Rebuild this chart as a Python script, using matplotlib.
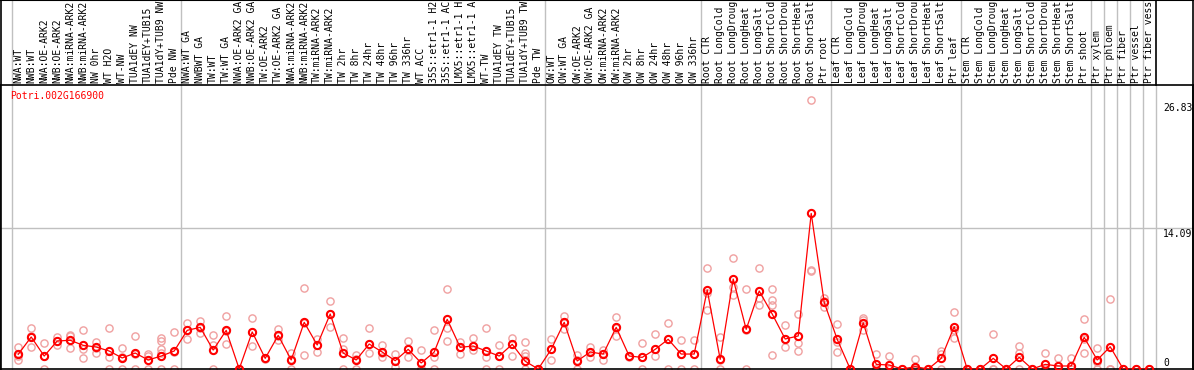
import numpy as np
from matplotlib import pyplot as plt
from matplotlib import transforms

gene = "Potri.002G166900"

# beschriftungen wie im bild: nach 14 zeichen abgeschnitten
samples = [
    "NWA:WT", "NWB:WT", "NWA:OE-ARK2", "NWB:OE-ARK2", "NWA:miRNA-ARK2", "NWB:miRNA-ARK2",
    "NW 0hr", "WT H2O", "WT-NW", "TUA1dEY NW", "TUA1dEY+TUB15", "TUA1dY+TUB9 NW", "Pde NW",
    "NWA:WT GA", "NWBWT GA", "TW:WT", "TW:WT GA", "NWA:OE-ARK2 GA", "NWB:OE-ARK2 GA",
    "TW:OE-ARK2", "TW:OE-ARK2 GA", "NWA:miRNA-ARK2", "NWB:miRNA-ARK2", "TW:miRNA-ARK2",
    "TW:miRNA-ARK2", "TW 2hr", "TW 8hr", "TW 24hr", "TW 48hr", "TW 96hr", "TW 336hr",
    "WT ACC", "35S::etr1-1 H2", "35S::etr1-1 AC", "LMX5::etr1-1 H", "LMX5::etr1-1 A",
    "WT-TW", "TUA1dEY TW", "TUA1dEY+TUB15", "TUA1dY+TUB9 TW", "Pde TW",
    "OW:WT", "OW:WT GA", "OW:OE-ARK2", "OW:OE-ARK2 GA", "OW:miRNA-ARK2", "OW:miRNA-ARK2",
    "OW 2hr", "OW 8hr", "OW 24hr", "OW 48hr", "OW 96hr", "OW 336hr",
    "Root CTR", "Root LongCold", "Root LongDroug", "Root LongHeat", "Root LongSalt",
    "Root ShortCold", "Root ShortDrou", "Root ShortHeat", "Root ShortSalt", "Ptr root",
    "Leaf CTR", "Leaf LongCold", "Leaf LongDroug", "Leaf LongHeat", "Leaf LongSalt",
    "Leaf ShortCold", "Leaf ShortDrou", "Leaf ShortHeat", "Leaf ShortSalt", "Ptr leaf",
    "Stem CTR", "Stem LongCold", "Stem LongDroug", "Stem LongHeat", "Stem LongSalt",
    "Stem ShortCold", "Stem ShortDrou", "Stem ShortHeat", "Stem ShortSalt", "Ptr shoot",
    "Ptr xylem", "Ptr phloem", "Ptr fiber", "Ptr vessel", "Ptr fiber vess",
]
group_sizes = [13, 28, 12, 10, 10, 10, 1, 1, 1, 1, 1]

# mittelwerte (fette roten kreise)
means = [
    1.46, 3.19, 1.29, 2.79, 2.86, 2.36, 2.19, 1.79, 1.10, 1.59, 0.90, 1.29, 1.79,
    3.85, 4.15, 1.89, 3.85, 0.0, 3.69, 1.06, 3.35, 0.90, 4.65, 2.39, 5.48, 1.59, 0.90,
    2.49, 1.69, 0.83, 1.96, 0.60, 1.69, 4.95, 2.16, 2.29, 1.79, 1.29, 2.46, 0.77, 0.0,
    1.96, 4.65, 0.80, 1.69, 1.49, 4.15, 1.29, 1.16, 1.96, 2.96, 1.49, 1.49,
    7.87, 0.96, 8.96, 3.95, 7.77, 5.48, 2.99, 3.29, 15.5, 6.64,
    2.96, 0.0, 4.61, 0.46, 0.40, 0.0, 0.23, 0.0, 1.06, 4.22,
    0.0, 0.0, 1.06, 0.0, 1.16, 0.0, 0.46, 0.30, 0.30, 3.15,
    0.90, 2.22, 0.0, 0.0, 0.0,
]

# einzelwerte (blasse kreise)
reps = [
    [2.2, 0.9, 1.3], [4.05, 2.22, 3.3], [2.56, 0, 1.3], [3.19, 2.39, 2.8], [3.39, 3.25, 2.12],
    [3.85, 1.96, 1.06], [2.72, 1.63, 2.1], [4.05, 1.23, 0], [2.06, 0, 1.2], [3.29, 0, 1.5],
    [1.49, 1.29, 0], [3.06, 2.76, 1.96, 1.6, 0], [3.65, 0, 1.7],
    [4.55, 3.02, 3.9], [4.78, 3.55, 4.1], [3.35, 2.39, 0], [5.28, 2.52, 3.8], [0, 0, 0],
    [5.05, 2.26, 3.7], [1.06, 1.0], [3.95, 2.89, 3.3], [1.63, 0, 1.0], [8.04, 1.39, 4.6],
    [2.99, 1.72, 2.4], [6.77, 4.15, 5.5], [3.06, 1.96, 0], [1.39, 0, 1.0], [4.05, 1.63, 2.5],
    [2.39, 1.2, 1.6], [1.49, 0.8, 0.2], [2.79, 1.2, 2.0], [1.89, 0, 0], [3.85, 1.2, 0],
    [7.97, 4.05, 2.79], [2.72, 1.49, 2.2], [3.06, 1.89, 2.3], [4.05, 1.2, 0], [2.39, 0, 1.3],
    [3.12, 1.29, 2.5], [2.66, 1.59, 1.29, 0], [0, 0, 0],
    [2.99, 0.9, 2.0], [5.28, 4.6, 4.0], [1.39, 0, 0.9], [2.16, 1.2, 1.7], [1.89, 0.9, 1.5],
    [5.15, 3.29, 4.1], [1.2, 1.3], [2.56, 0, 1.2], [3.45, 1.29, 2.0], [4.55, 0, 3.0],
    [2.92, 0, 1.5], [2.92, 0, 1.5],
    [10.03, 5.88, 7.6], [3.22, 0, 0.9], [11.03, 8.2, 7.37], [7.97, 0, 3.9], [10.03, 7.04, 6.37],
    [7.97, 6.87, 6.37, 1.39], [4.38, 2.22, 3.0], [5.48, 2.56, 1.82], [26.83, 9.86, 9.8],
    [7.04, 6.2, 6.8],
    [4.48, 1.72, 2.7], [0, 0], [5.05, 3.88, 4.9], [1.49, 0, 0], [1.29, 0], [0, 0], [1.0, 0, 0],
    [0, 0], [1.82, 1.5, 0], [5.71, 3.06, 3.9],
    [0, 0], [0, 0], [3.49, 0, 0], [0, 0], [2.29, 1.6, 0], [0, 0], [1.63, 0, 0], [1.06, 0],
    [1.06, 0], [4.95, 1.63, 3.0],
    [2.06, 0, 0.7], [6.94, 0, 0], [0, 0], [0, 0], [0, 0],
]

y_marks = [26.83, 14.09, 0]

W, H = 1194, 370
font = dict(family="DejaVu Sans Mono", fontsize=7.0)

fig = plt.figure(figsize=(W / 100, H / 100), dpi=100)
ax = fig.add_axes([0, 1 / H, 1193 / W, 284 / H])
n = len(samples)
x = np.arange(n)
ax.set_xlim(-1.4, -1.4 + 1193 / 13)
ax.set_ylim(0, 28.29)
ax.set_xticks([])
ax.set_yticks([])
for s in ax.spines.values():
    s.set_color("black")
    s.set_linewidth(1.2)

# trennlinien zwischen den gruppen
top = 1 + 85 / 284
bounds = np.concatenate([[0], np.cumsum(group_sizes)])
for b in bounds:
    ax.axvline(b - 0.5, ymin=0, ymax=top if b < n else 1, color="#c0c0c0", lw=1, clip_on=False, zorder=1)
ax.axvline(n - 0.5, ymin=1, ymax=top, color="black", lw=1.2, clip_on=False)
ax.axhline(14.09, color="#c0c0c0", lw=1, zorder=1)

# rahmen aussen
fig.add_artist(plt.Line2D([0, 1], [1, 1], color="black", lw=1.5, transform=fig.transFigure))
fig.add_artist(plt.Line2D([0.5 / W, 0.5 / W], [0, 1], color="black", lw=1.2, transform=fig.transFigure))
fig.add_artist(plt.Line2D([1193 / W, 1193 / W], [0, 1], color="black", lw=1.2, transform=fig.transFigure))

# beschriftung oben
trans = transforms.blended_transform_factory(ax.transData, ax.transAxes)
for i, s in enumerate(samples):
    ax.text(i, 1 + 2 / 284, s, transform=trans, rotation=90, ha="center", va="bottom",
            clip_on=False, **font)

ax.text(10 / 1193, 1 - 6 / 284, gene, transform=ax.transAxes, color="red", va="top", **font)

# werte rechts
xl = -1.4 + 1163 / 13
ax.text(xl, y_marks[0] - 0.3, "%.2f" % y_marks[0], va="top", ha="left", **font)
ax.text(xl, y_marks[1] - 0.1, "%.2f" % y_marks[1], va="top", ha="left", **font)
ax.text(xl, y_marks[2] + 0.1, "%g" % y_marks[2], va="bottom", ha="left", **font)

# punkte
xr = np.concatenate([[i] * len(r) for i, r in enumerate(reps)])
yr = np.concatenate(reps)
ax.plot(xr, yr, "o", mfc="none", mec="#f0a0a0", ms=5.2, mew=1.0, clip_on=False, zorder=2)
ax.plot(x, means, "-", color="red", lw=0.9, zorder=3)
ax.plot(x, means, "o", mfc="none", mec="red", ms=5.2, mew=1.5, clip_on=False, zorder=4)

plt.savefig("out.png", dpi=100)
